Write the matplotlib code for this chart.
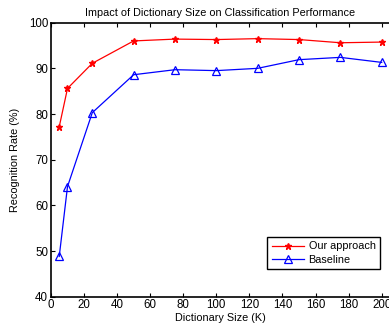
import matplotlib
matplotlib.use('Agg')
import matplotlib.pyplot as plt

# dictionary sizes (K)
dict_size = [5, 10, 25, 50, 75, 100, 125, 150, 175, 200]

# recognition rate (%)
ours = [77.2, 85.6, 91.1, 96.0, 96.4, 96.3, 96.5, 96.3, 95.6, 95.75]
baseline = [48.8, 64.1, 80.3, 88.6, 89.7, 89.5, 90.0, 91.9, 92.4, 91.3]

xticks = list(range(0, 201, 20))
yticks = list(range(40, 101, 10))

plt.rcParams['font.family'] = ['Liberation Sans', 'DejaVu Sans']

fig = plt.figure(figsize=(3.89, 3.27), dpi=100)
ax = fig.add_axes([0.131, 0.0927, 0.869, 0.838])

ax.plot(dict_size, ours, color='red', marker='*', markersize=5,
        linewidth=0.9, label='Our approach')
ax.plot(dict_size, baseline, color='blue', marker='^', markersize=6,
        markerfacecolor='none', markeredgewidth=0.9, linewidth=0.9,
        label='Baseline')

ax.set_xlim(0, 204.4)
ax.set_ylim(40, 100)
ax.set_xticks(xticks)
ax.set_yticks(yticks)
ax.tick_params(direction='in', top=True, right=False, labelsize=8.3,
               length=3, width=0.8, pad=2)
ax.spines['right'].set_visible(False)
for s in ['left', 'bottom', 'top']:
    ax.spines[s].set_linewidth(1.2)

ax.set_title('Impact of Dictionary Size on Classification Performance',
             fontsize=7.8, pad=5)
ax.set_xlabel('Dictionary Size (K)', fontsize=7.8, labelpad=1)
ax.set_ylabel('Recognition Rate (%)', fontsize=7.8, labelpad=6)

leg = ax.legend(loc='lower right', bbox_to_anchor=(0.973, 0.101),
                borderaxespad=0, fontsize=7.8, fancybox=False,
                framealpha=1, edgecolor='black', handlelength=3,
                borderpad=0.4, labelspacing=0.3, handletextpad=0.4)
leg.get_frame().set_linewidth(1.0)

fig.savefig('out.png', dpi=100)
